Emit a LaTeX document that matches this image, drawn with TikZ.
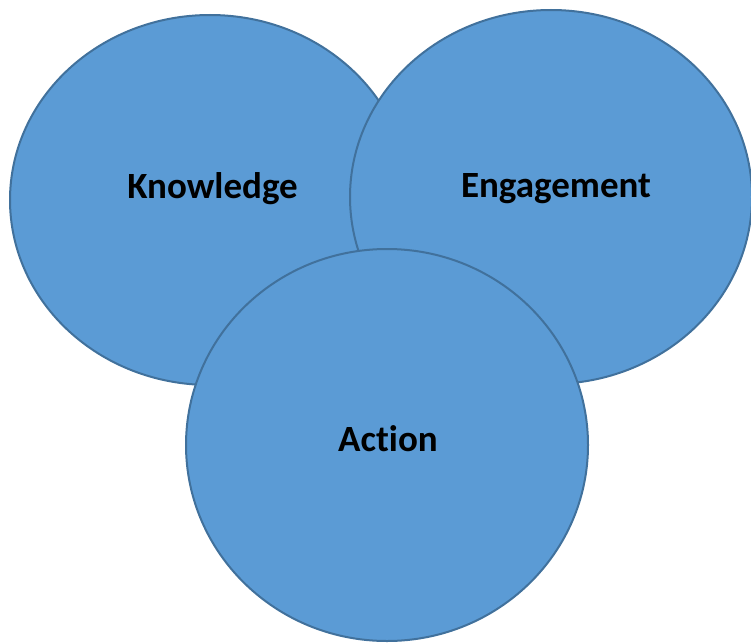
\documentclass[tikz,border=0pt]{standalone}
\usepackage{fontspec}
\setmainfont[Ligatures={NoCommon}]{Carlito}
\definecolor{cfill}{HTML}{5B9BD5}
\definecolor{cline}{HTML}{41719C}
\begin{document}
\begin{tikzpicture}[x=1pt,y=-1pt,
  blob/.style={fill=cfill,draw=cline,line width=2pt},
  lbl/.style={font=\fontsize{37}{41}\selectfont\bfseries,anchor=base,inner sep=0pt}]
\useasboundingbox (0,0) rectangle (751,642);
\draw[blob] (210,200) ellipse [x radius=200,y radius=185];
\draw[blob] (551,197) ellipse [x radius=201,y radius=187];
\draw[blob] (387,445) ellipse [x radius=201,y radius=196];
\node[lbl] (k) at (212.5,198) {Knowledge};
\node[lbl] (e) at (556,197) {Engagement};
\node[lbl] (a) at (388,451) {Action};
\end{tikzpicture}
\end{document}
